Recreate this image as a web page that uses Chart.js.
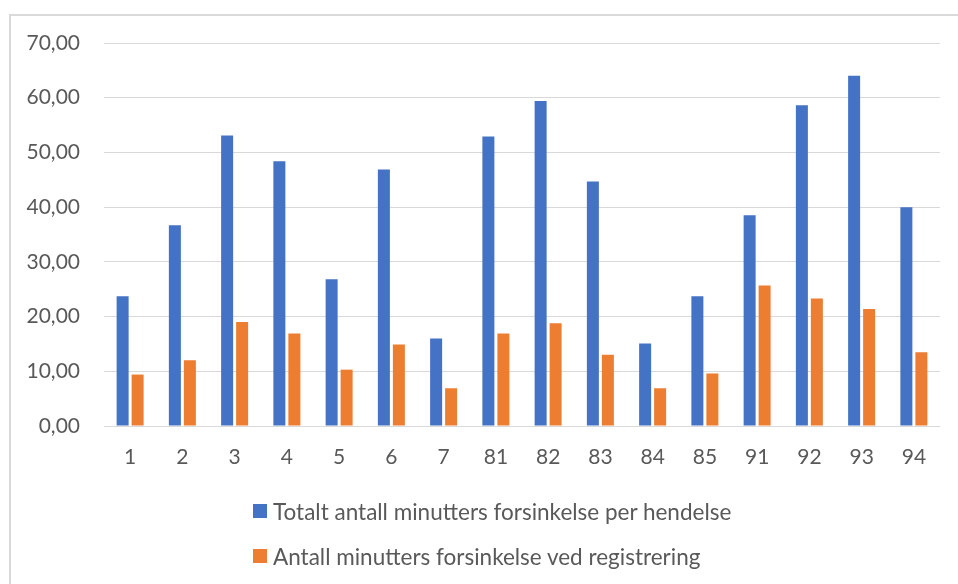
<!DOCTYPE html>
<html>
<head>
<meta charset="utf-8">
<script src="https://cdn.jsdelivr.net/npm/chart.js@4/dist/chart.umd.min.js"></script>
<style>
  html, body { margin: 0; padding: 0; background: #ffffff; }
  body { width: 958px; height: 584px; position: relative; overflow: hidden; font-family: Lato, "Liberation Sans", sans-serif; }
  #frame { position: absolute; left: 9px; top: 14px; width: 980px; height: 620px; border: 2px solid #d9d9d9; box-sizing: border-box; }
  #chart { position: absolute; left: 0; top: 0; }
  #legend { position: absolute; left: 253px; top: 494px; color: #595959; font-size: 22.5px; }
  #legend .item { display: flex; align-items: center; height: 34px; margin-bottom: 11px; white-space: nowrap; }
  #legend .box { width: 14px; height: 14px; margin-right: 6px; flex: none; }
</style>
</head>
<body>
<div id="frame"></div>
<canvas id="chart" width="958" height="584"></canvas>
<div id="legend"></div>
<script>
// Delay categories (codes)
const categories = ["1", "2", "3", "4", "5", "6", "7", "81", "82", "83", "84", "85", "91", "92", "93", "94"];

// Total minutes of delay per incident
const totalDelay = [23.7, 36.7, 53.1, 48.4, 26.8, 46.9, 16.0, 52.9, 59.4, 44.7, 15.1, 23.7, 38.5, 58.6, 64.0, 40.0];

// Minutes of delay at registration
const registeredDelay = [9.4, 12.0, 19.0, 16.9, 10.3, 14.9, 6.9, 16.9, 18.8, 13.0, 6.9, 9.6, 25.7, 23.3, 21.4, 13.5];

const seriesNames = [
  "Totalt antall minutters forsinkelse per hendelse",
  "Antall minutters forsinkelse ved registrering"
];

const yTicks = [0, 10, 20, 30, 40, 50, 60, 70];

const textColor = "#595959";
const gridColor = "#d9d9d9";
const fontFamily = "Lato, 'Liberation Sans', sans-serif";

const chart = new Chart(document.getElementById("chart"), {
  type: "bar",
  data: {
    labels: categories,
    datasets: [
      { label: seriesNames[0], data: totalDelay, backgroundColor: "#4472C4", borderWidth: 0 },
      { label: seriesNames[1], data: registeredDelay, backgroundColor: "#ED7D31", borderWidth: 0 }
    ]
  },
  options: {
    responsive: false,
    animation: false,
    events: [],
    layout: { padding: { left: 0, right: 18, top: 43, bottom: 118 } },
    datasets: {
      bar: { categoryPercentage: 0.574, barPercentage: 0.8 }
    },
    plugins: {
      legend: { display: false },
      tooltip: { enabled: false }
    },
    scales: {
      x: {
        grid: { display: false, drawTicks: false },
        border: { display: false },
        ticks: {
          color: textColor,
          font: { family: fontFamily, size: 21 },
          padding: 19,
          autoSkip: false,
          maxRotation: 0
        },
        afterFit: (scale) => { scale.height = 40; }
      },
      y: {
        min: 0,
        max: 70,
        afterBuildTicks: (scale) => { scale.ticks = yTicks.map(v => ({ value: v })); },
        grid: { color: gridColor, lineWidth: 1, drawTicks: false },
        border: { display: false },
        ticks: {
          color: textColor,
          font: { family: fontFamily, size: 21 },
          padding: 24,
          callback: (v) => v.toFixed(2).replace(".", ",")
        },
        afterFit: (scale) => { scale.width = 104; }
      }
    }
  }
});

// Legend listing each series, stacked vertically below the plot
const legendEl = document.getElementById("legend");
chart.data.datasets.forEach(ds => {
  const item = document.createElement("div");
  item.className = "item";
  const box = document.createElement("span");
  box.className = "box";
  box.style.background = ds.backgroundColor;
  const label = document.createElement("span");
  label.textContent = ds.label;
  item.appendChild(box);
  item.appendChild(label);
  legendEl.appendChild(item);
});
</script>
</body>
</html>
